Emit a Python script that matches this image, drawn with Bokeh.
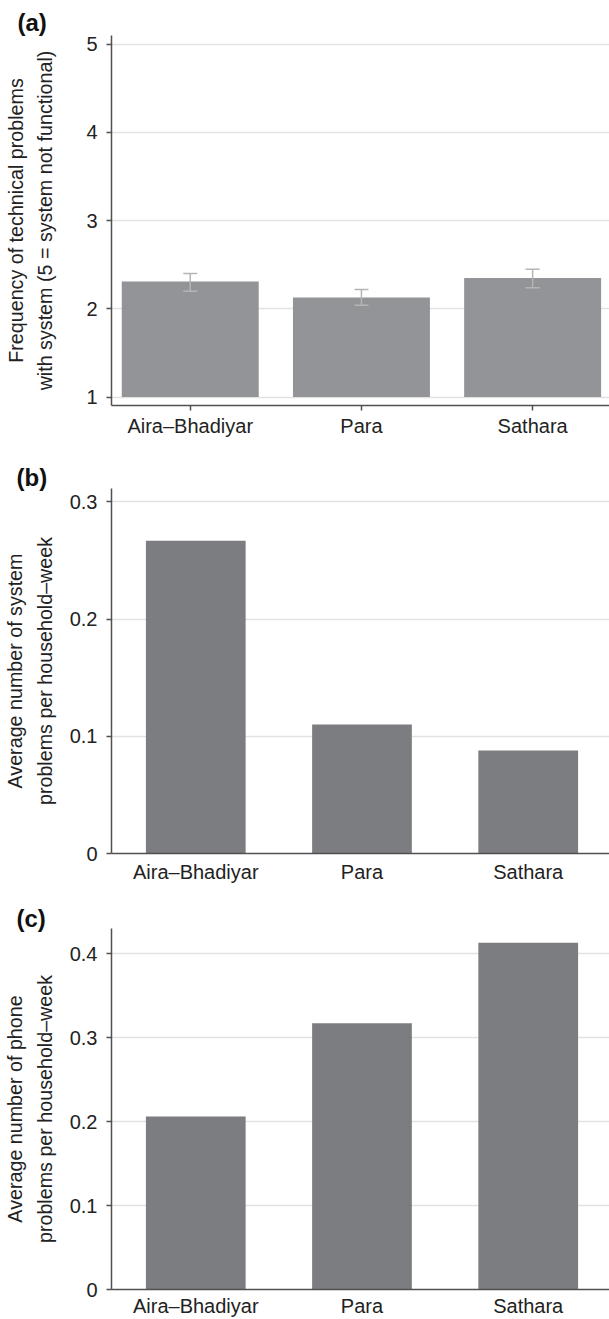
from bokeh.plotting import figure
from bokeh.layouts import column
from bokeh.models import FixedTicker, ColumnDataSource, Whisker, TeeHead, Range1d
from bokeh.embed import file_html
from bokeh.resources import INLINE

# ---------------- data ----------------
villages = ["Aira–Bhadiyar", "Para", "Sathara"]
tech_mean = [2.31, 2.13, 2.35]
tech_low = [2.20, 2.04, 2.24]
tech_high = [2.40, 2.22, 2.45]
system_rate = [0.267, 0.110, 0.088]
phone_rate = [0.206, 0.317, 0.413]

ticks_a = [1, 2, 3, 4, 5]
ticks_b = [0, 0.1, 0.2, 0.3]
ticks_c = [0, 0.1, 0.2, 0.3, 0.4]

ylab_a = "Frequency of technical problems\nwith system (5 = system not functional)"
ylab_b = "Average number of system\nproblems per household–week"
ylab_c = "Average number of phone\nproblems per household–week"

# ---------------- style ----------------
FONT = "Liberation Sans"
TXT = "#222222"
AXC = "#505050"
GRID = "#e2e2e2"
W = 609
xs = [i + 1 for i in range(len(villages))]


def make(height, top, frame_h, left, xr, yr, yticks, ylabel, ylab_standoff, letter,
         letter_standoff, xtick_out, xstandoff, xlab_lh=1.2):
    bottom = height - top - frame_h
    p = figure(width=W, height=height, x_range=Range1d(*xr), y_range=Range1d(*yr),
               output_backend="svg", toolbar_location=None,
               min_border_left=left, min_border_right=0, min_border_top=top,
               min_border_bottom=bottom)
    p.outline_line_color = None
    p.xgrid.grid_line_color = None
    p.ygrid.grid_line_color = GRID
    p.ygrid.grid_line_width = 1.5
    p.ygrid.ticker = FixedTicker(ticks=yticks)

    p.yaxis.ticker = FixedTicker(ticks=yticks)
    p.yaxis.major_label_overrides = {t: (str(t) if t != 0 else "0") for t in yticks}
    p.yaxis.minor_tick_line_color = None
    p.yaxis.major_tick_in = 0
    p.yaxis.major_tick_out = 5
    p.yaxis.major_label_standoff = 9
    p.yaxis.axis_label = ylabel
    p.yaxis.axis_label_text_font = FONT
    p.yaxis.axis_label_text_font_size = "19.7px"
    p.yaxis.axis_label_text_font_style = "normal"
    p.yaxis.axis_label_text_color = TXT
    p.yaxis.axis_label_text_line_height = 1.35
    p.yaxis.axis_label_standoff = ylab_standoff

    p.xaxis.ticker = FixedTicker(ticks=xs)
    p.xaxis.major_label_overrides = {x: v for x, v in zip(xs, villages)}
    p.xaxis.minor_tick_line_color = None
    p.xaxis.major_tick_in = 0
    p.xaxis.major_tick_out = xtick_out
    p.xaxis.major_label_standoff = xstandoff
    p.xaxis.major_label_text_line_height = xlab_lh

    for ax in (p.xaxis, p.yaxis):
        ax.axis_line_color = AXC
        ax.axis_line_width = 1.5
        ax.major_tick_line_color = AXC
        ax.major_tick_line_width = 1.5
        ax.major_label_text_font = FONT
        ax.major_label_text_font_size = "20px"
        ax.major_label_text_color = TXT
    if xtick_out == 0:
        p.xaxis.major_tick_line_color = None

    # panel letter as a left-aligned title shifted over the y-axis title
    p.title.text = letter
    p.title.align = "left"
    p.title.offset = 13 - left
    p.title.standoff = letter_standoff
    p.title.text_font = FONT
    p.title.text_font_size = "24px"
    p.title.text_font_style = "bold"
    p.title.text_color = "#111111"
    return p


# panel (a)
ha = 442
pa = make(ha, 35, 370, 107, (0.54, 3.449), (0.904, 5.10), ticks_a, ylab_a, 27, "(a)", -1, 5, 4)
src_a = ColumnDataSource(dict(x=xs, top=tech_mean, lo=tech_low, hi=tech_high))
pa.vbar(x="x", top="top", bottom=1, width=0.8, source=src_a, fill_color="#939498", line_color=None)
pa.add_layout(Whisker(base="x", upper="hi", lower="lo", source=src_a, line_color="#b5b5b5",
                      line_width=1.5, level="overlay",
                      upper_head=TeeHead(size=14, line_color="#b5b5b5", line_width=1.5),
                      lower_head=TeeHead(size=14, line_color="#b5b5b5", line_width=1.5)))

# panel (b)
hb = 443
pb = make(hb, 46, 365, 108, (0.493, 3.489), (0, 0.3115), ticks_b, ylab_b, 11, "(b)", -5, 0, 7)
pb.vbar(x=xs, top=system_rate, bottom=0, width=0.6, fill_color="#7c7d81", line_color=None)

# panel (c)
hc = 1319 - ha - hb
pc = make(hc, 43, 365, 108, (0.493, 3.489), (0, 0.4299), ticks_c, ylab_c, 11, "(c)", -6, 0, 5,
          xlab_lh=1.0)
pc.vbar(x=xs, top=phone_rate, bottom=0, width=0.6, fill_color="#7c7d81", line_color=None)

layout = column(pa, pb, pc, spacing=0)
open("out.html", "w").write(file_html(layout, INLINE))
